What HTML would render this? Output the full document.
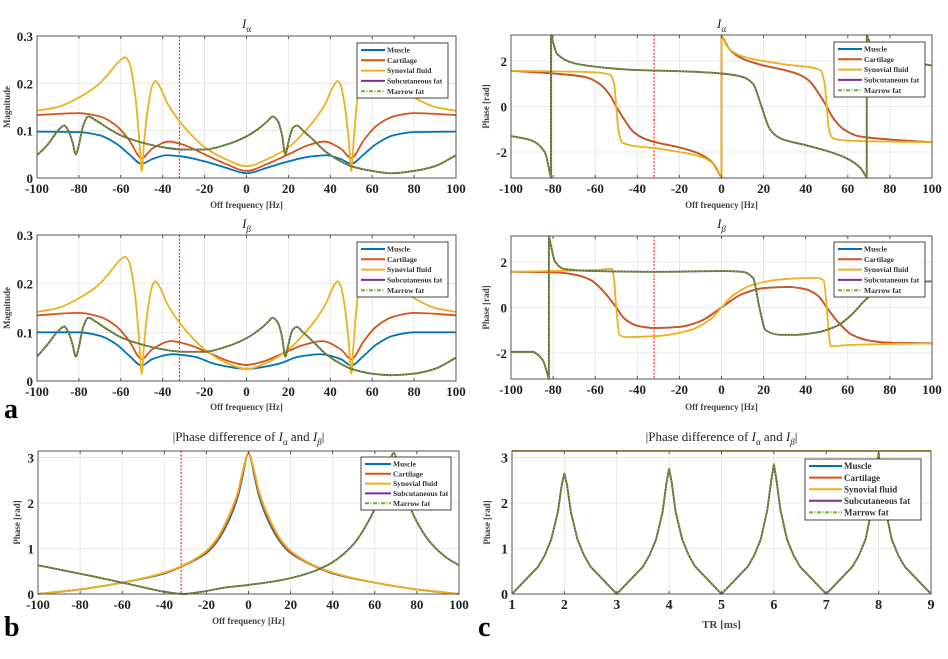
<!DOCTYPE html>
<html><head><meta charset="utf-8">
<style>
html,body{margin:0;padding:0;background:#fff;}
svg{display:block;font-family:"Liberation Serif",serif;}
</style></head>
<body>
<svg id="fig" width="948" height="659" viewBox="0 0 948 659" xmlns="http://www.w3.org/2000/svg"></svg>
<script>
// ---------- DATA ----------
const magA_muscle_f = [-100,-80,-70,-62,-56,-50,-45,-38,-30,-20,-10,0,10,20,30,38,45,50,56,62,70,80,100];
const magA_muscle_v = [0.098,0.097,0.09,0.072,0.05,0.03,0.04,0.048,0.045,0.035,0.022,0.01,0.022,0.035,0.045,0.048,0.04,0.03,0.05,0.072,0.09,0.097,0.098];
const magA_cart_f = [-100,-80,-70,-62,-56,-50,-45,-37,-30,-20,-10,0,10,20,30,37,45,50,56,62,70,80,100];
const magA_cart_v = [0.133,0.137,0.13,0.11,0.08,0.042,0.062,0.077,0.07,0.05,0.03,0.015,0.03,0.05,0.07,0.077,0.062,0.042,0.08,0.11,0.13,0.137,0.133];
const magA_syn_f = [-100,-90,-80,-70,-64,-60,-58,-56,-53,-51,-50,-49,-47,-45,-43.5,-41,-38,-32,-25,-20,-10,0,10,20,25,32,38,41,43.5,45,47,49,50,51,53,56,58,60,64,70,80,90,100];
const magA_syn_v = [0.142,0.15,0.17,0.2,0.23,0.25,0.255,0.245,0.17,0.07,0.015,0.07,0.15,0.195,0.205,0.19,0.16,0.12,0.085,0.065,0.04,0.025,0.04,0.065,0.085,0.12,0.16,0.19,0.205,0.195,0.15,0.07,0.015,0.07,0.17,0.245,0.255,0.25,0.23,0.2,0.17,0.15,0.142];
const magA_fat_f = [-100,-95,-90,-87,-85,-83,-81.5,-80,-78,-75.5,-72,-66,-60,-50,-40,-30,-20,-10,0,6,10,12.5,15,17,18.5,20,22,24,27,32,38,45,50,60,69,80,90,100];
const magA_fat_v = [0.048,0.07,0.1,0.111,0.1,0.075,0.05,0.07,0.11,0.13,0.122,0.105,0.09,0.075,0.065,0.06,0.06,0.07,0.088,0.105,0.12,0.13,0.12,0.09,0.05,0.075,0.105,0.111,0.1,0.08,0.055,0.035,0.025,0.015,0.01,0.015,0.025,0.048];
const magB_muscle_f = [-100,-80,-70,-62,-56,-50,-45,-35,-25,-15,0,15,25,35,45,50,56,62,70,80,100];
const magB_muscle_v = [0.1,0.1,0.093,0.075,0.052,0.032,0.045,0.055,0.05,0.035,0.025,0.035,0.05,0.055,0.045,0.032,0.052,0.075,0.093,0.1,0.1];
const magB_cart_f = [-100,-80,-70,-62,-56,-50,-45,-36,-28,-18,-8,0,8,18,28,36,45,50,56,62,70,80,100];
const magB_cart_v = [0.135,0.14,0.132,0.112,0.082,0.045,0.065,0.082,0.075,0.058,0.04,0.033,0.04,0.058,0.075,0.082,0.065,0.045,0.082,0.112,0.132,0.14,0.135];
const magB_syn_f = magA_syn_f;
const magB_syn_v = [0.142,0.15,0.17,0.2,0.23,0.25,0.255,0.245,0.17,0.07,0.015,0.07,0.15,0.195,0.205,0.19,0.16,0.12,0.085,0.065,0.038,0.025,0.038,0.065,0.085,0.12,0.16,0.19,0.205,0.195,0.15,0.07,0.015,0.07,0.17,0.245,0.255,0.25,0.23,0.2,0.17,0.15,0.142];
const magB_fat_f = magA_fat_f;
const magB_fat_v = [0.05,0.075,0.102,0.112,0.1,0.075,0.05,0.07,0.11,0.13,0.122,0.105,0.09,0.075,0.065,0.06,0.06,0.07,0.088,0.105,0.12,0.13,0.12,0.09,0.05,0.075,0.105,0.111,0.1,0.08,0.055,0.035,0.025,0.015,0.012,0.015,0.025,0.048];
const phA_muscle_f = [-100,-80,-65,-58,-53,-50,-46,-42,-37,-30,-20,-10,-4,0,0,4,10,20,30,37,42,46,50,53,58,65,80,100];
const phA_muscle_v = [1.57,1.45,1.3,1.0,0.5,0,-0.6,-1.1,-1.4,-1.6,-1.8,-2.1,-2.5,-3.14,3.14,2.5,2.1,1.8,1.6,1.4,1.1,0.6,0,-0.5,-1.0,-1.3,-1.45,-1.57];
const phA_syn_f = [-100,-60,-53,-51,-50,-49,-47,-30,-20,-10,-3,0,0,3,10,20,30,47,49,50,51,53,60,100];
const phA_syn_v = [1.57,1.5,1.4,1.0,0,-1.0,-1.6,-1.85,-2.0,-2.2,-2.6,-3.14,3.14,2.6,2.2,2.0,1.85,1.6,1.0,0,-1.0,-1.4,-1.5,-1.57];
const phA_fat_f = [-100,-90,-84,-81,-81,-78,-70,-55,-40,-20,0,10,15,19,23,28,40,50,60,66,69,69,72,80,100];
const phA_fat_v = [-1.3,-1.5,-2.0,-3.14,3.14,2.3,1.9,1.7,1.6,1.55,1.45,1.3,1.0,0,-1.0,-1.4,-1.7,-1.95,-2.3,-2.7,-3.14,3.14,2.5,2.1,1.8];
const phB_muscle_f = [-100,-80,-70,-62,-55,-50,-46,-40,-32,-20,-10,0,10,20,32,40,46,50,55,62,70,80,100];
const phB_muscle_v = [1.57,1.55,1.45,1.2,0.6,0,-0.5,-0.8,-0.9,-0.85,-0.6,0,0.6,0.85,0.9,0.8,0.5,0,-0.6,-1.2,-1.45,-1.55,-1.57];
const phB_syn_f = [-100,-60,-52,-51,-50,-48.5,-45,-30,-15,-5,0,5,15,30,45,48.5,50,51,52,60,100];
const phB_syn_v = [1.57,1.65,1.7,1.2,0,-1.2,-1.3,-1.25,-1.0,-0.5,0,0.5,1.0,1.25,1.3,1.2,0,-1.2,-1.7,-1.65,-1.57];
const phB_fat_f = [-100,-90,-85,-82,-82,-79,-75,-60,-30,0,10,15,18,21,28,35,45,55,62,68,75,85,100];
const phB_fat_v = [-1.95,-1.95,-2.3,-3.14,3.14,2.0,1.7,1.6,1.57,1.6,1.57,1.3,0,-1.0,-1.2,-1.2,-1.1,-0.8,-0.3,0.3,0.8,1.1,1.15];
const pdB_water_f = [-100,-80,-60,-40,-32,-20,-15,-10,-5,-3,0,3,5,10,15,20,32,40,60,80,100];
const pdB_muscle_v = [0,0.1,0.25,0.45,0.6,0.9,1.15,1.55,2.15,2.55,3.1,2.55,2.15,1.55,1.15,0.9,0.6,0.45,0.25,0.1,0];
const pdB_cart_v = [0,0.1,0.25,0.46,0.6,0.92,1.18,1.6,2.2,2.6,3.1,2.6,2.2,1.6,1.18,0.92,0.6,0.46,0.25,0.1,0];
const pdB_syn_v = [0,0.1,0.25,0.47,0.61,0.95,1.22,1.65,2.25,2.65,3.1,2.65,2.25,1.65,1.22,0.95,0.61,0.47,0.25,0.1,0];
const pdB_fat_f = [-100,-75,-55,-40,-31,-22,-10,0,15,28,40,50,57,63,66,69,72,76,81,87,94,100];
const pdB_fat_v = [0.63,0.4,0.2,0.05,0,0.05,0.15,0.2,0.3,0.45,0.7,1.1,1.6,2.2,2.7,3.1,2.6,2.0,1.5,1.1,0.8,0.63];
const pdC_water_t = [1,9];
const pdC_water_v = [3.14,3.14];
const pdC_fat_t = [1,1.25,1.5,1.625,1.75,1.875,1.95,2,2.05,2.125,2.25,2.375,2.5,2.75,3,3.25,3.5,3.625,3.75,3.875,3.95,4,4.05,4.125,4.25,4.375,4.5,4.75,5,5.25,5.5,5.625,5.75,5.875,5.95,6,6.05,6.125,6.25,6.375,6.5,6.75,7,7.25,7.5,7.625,7.75,7.875,7.95,8,8.05,8.125,8.25,8.375,8.5,8.75,9];
const pdC_fat_v = [0,0.3,0.6,0.85,1.2,1.8,2.4,2.65,2.4,1.8,1.2,0.85,0.6,0.3,0,0.3,0.6,0.85,1.2,1.8,2.45,2.75,2.45,1.8,1.2,0.85,0.6,0.3,0,0.3,0.6,0.85,1.2,1.85,2.5,2.85,2.5,1.85,1.2,0.85,0.6,0.3,0,0.3,0.6,0.85,1.2,1.9,2.6,3.1,2.6,1.9,1.2,0.85,0.6,0.3,0];
const freqTicks = [-100,-80,-60,-40,-20,0,20,40,60,80,100];
const magTicks = [0,0.1,0.2,0.3];
const phaseTicks = [-2,0,2];
const pdTicks = [0,1,2,3];
const trTicks = [1,2,3,4,5,6,7,8,9];
const markerFreq = -32;
const legendNames = ["Muscle","Cartilage","Synovial fluid","Subcutaneous fat","Marrow fat"];

// ---------- DRAWING ----------
const NS = "http://www.w3.org/2000/svg";
const svg = document.getElementById('fig');
const C = {mus:"#0072BD",car:"#D95319",syn:"#EDB120",sub:"#7E2F8E",fat:"#77AC30"};
function mk(tag, attrs, parent){const e=document.createElementNS(NS,tag);for(const k in attrs)e.setAttribute(k,attrs[k]);(parent||svg).appendChild(e);return e;}
function txt(s,x,y,size,anchor,parent,extra){const t=mk('text',Object.assign({x:x,y:y,'font-size':size,'text-anchor':anchor||'middle',fill:'#222'},extra||{}),parent);t.textContent=s;return t;}

function smoothPath(P,linear){
  if(linear) return P.map((p,i)=>(i?'L':'M')+p[0].toFixed(2)+','+p[1].toFixed(2)).join('');
  let d='';
  let runs=[],cur=[P[0]];
  for(let i=1;i<P.length;i++){
    if(Math.abs(P[i][0]-P[i-1][0])<1e-6){runs.push(cur);cur=[P[i]];}
    else cur.push(P[i]);
  }
  runs.push(cur);
  runs.forEach((r,ri)=>{
    d+=(ri?'L':'M')+r[0][0].toFixed(2)+','+r[0][1].toFixed(2);
    const n=r.length; if(n<2)return;
    const dx=[],m=[],t=new Array(n);
    for(let i=0;i<n-1;i++){dx[i]=r[i+1][0]-r[i][0];m[i]=(r[i+1][1]-r[i][1])/dx[i];}
    t[0]=m[0];t[n-1]=m[n-2];
    for(let i=1;i<n-1;i++){t[i]=(m[i-1]*m[i]<=0)?0:(3*(dx[i-1]+dx[i]))/((2*dx[i]+dx[i-1])/m[i-1]+(dx[i]+2*dx[i-1])/m[i]);}
    for(let i=0;i<n-1;i++){
      const h=dx[i]/3;
      d+='C'+(r[i][0]+h).toFixed(2)+','+(r[i][1]+t[i]*h).toFixed(2)+' '+(r[i+1][0]-h).toFixed(2)+','+(r[i+1][1]-t[i+1]*h).toFixed(2)+' '+r[i+1][0].toFixed(2)+','+r[i+1][1].toFixed(2);
    }
  });
  return d;
}

function panel(name,p){
  const g=mk('g',{});
  
  
  const sx=v=>p.x0+(v-p.xmin)/(p.xmax-p.xmin)*(p.x1-p.x0);
  const sy=v=>p.y1-(v-p.ymin)/(p.ymax-p.ymin)*(p.y1-p.y0);
  const grid=mk('g',{},g);
  
  
  p.xticks.forEach(t=>{mk('line',{x1:sx(t),x2:sx(t),y1:p.y0,y2:p.y1,stroke:'#e3e3e3','stroke-width':0.8},grid);});
  p.yticks.forEach(t=>{mk('line',{x1:p.x0,x2:p.x1,y1:sy(t),y2:sy(t),stroke:'#e3e3e3','stroke-width':0.8},grid);});
  const clipId='clip'+name;
  const cp=mk('clipPath',{id:clipId},g);mk('rect',{x:p.x0,y:p.y0-1,width:p.x1-p.x0,height:p.y1-p.y0+2},cp);
  const plot=mk('g',{'clip-path':'url(#'+clipId+')'},g);
  
  
  if(p.marker!==undefined){const m=mk('line',{x1:sx(p.marker),x2:sx(p.marker),y1:p.y0,y2:p.y1,stroke:'#ff3030','stroke-width':1.2,'stroke-dasharray':'2,1.5'},plot);
    }
  p.series.forEach(s=>{
    const P=s.f.map((f,i)=>[sx(f),sy(s.v[i])]);
    const path=mk('path',{d:smoothPath(P,p.linear),fill:'none',stroke:s.c,'stroke-width':s.w||1.8,'stroke-linejoin':'round','stroke-dasharray':s.dash||'none'},plot);
    
    
  });
  mk('rect',{x:p.x0,y:p.y0,width:p.x1-p.x0,height:p.y1-p.y0,fill:'none',stroke:'#555','stroke-width':1},g);
  p.xticks.forEach(t=>{mk('line',{x1:sx(t),x2:sx(t),y1:p.y1,y2:p.y1-3,stroke:'#555'},g);mk('line',{x1:sx(t),x2:sx(t),y1:p.y0,y2:p.y0+3,stroke:'#555'},g);
    const l=txt(String(t),sx(t),p.y1+15,p.tfs||13,'middle',g,{'font-weight':'bold'});});
  p.yticks.forEach(t=>{
    const l=txt(String(t),p.x0-4,sy(t)+5,p.tfs||13,'end',g,{'font-weight':'bold'});});
  const xl=txt(p.xtitle,(p.x0+p.x1)/2,p.xty,p.xfs||9,'middle',g,{'font-weight':'bold',fill:'#444'});
  
  const yl=txt(p.ytitle,0,0,9,'middle',g,{'font-weight':'bold',fill:'#444',transform:'translate('+p.ytx+','+((p.y0+p.y1)/2)+') rotate(-90)'});
  
  const tt=mk('text',{x:(p.x0+p.x1)/2,y:p.ty,'font-size':13,'text-anchor':'middle',fill:'#222'},g);
  
  tt.innerHTML=p.title;
  const L=p.leg, lg=mk('g',{},g);
  
  mk('rect',{x:L.x,y:L.y,width:L.w,height:L.h,fill:'#fff',stroke:'#444','stroke-width':1},lg);
  const cols=[C.mus,C.car,C.syn,C.sub,C.fat];
  legendNames.forEach((n,i)=>{
    const yy=L.y+L.pad+i*L.dy;
    const e=mk('g',{},lg);
    
    mk('line',{x1:L.x+4,x2:L.x+4+L.lw,y1:yy,y2:yy,stroke:cols[i],'stroke-width':2,'stroke-dasharray':i==4?'4,1.5,1,1.5':'none'},e);
    txt(n,L.x+6+L.lw,yy+L.fs*0.35,L.fs,'start',e,{'font-weight':'bold',fill:'#333'});
  });
}
function fiveSeries(mus,car,syn,fat){
  return [
    {n:'muscle-line',f:mus[0],v:mus[1],c:C.mus},
    {n:'cartilage-line',f:car[0],v:car[1],c:C.car},
    {n:'synovial-fluid-line',f:syn[0],v:syn[1],c:C.syn},
    {n:'subcutaneous-fat-line',f:fat[0],v:fat[1],c:'#5d5a45',w:1.9},
    {n:'marrow-fat-line',f:fat[0],v:fat[1],c:C.fat,w:1.2,dash:'2,1.2'}
  ];
}
const legS=(x,y)=>({x:x,y:y,w:91,h:55,pad:7,dy:10.3,lw:24,fs:7.5});
const IA='<tspan font-style="italic">I</tspan><tspan font-size="9" dy="4">α</tspan>';
const IB='<tspan font-style="italic">I</tspan><tspan font-size="9" dy="4" font-style="italic">β</tspan>';
panel('panel-a-alpha-magnitude',{x0:37,x1:456,y0:36,y1:178,xmin:-100,xmax:100,ymin:0,ymax:0.3,xticks:freqTicks,yticks:magTicks,marker:markerFreq,
  xtitle:'Off frequency [Hz]',xty:208,ytitle:'Magnitude',ytx:10,ty:28,title:IA,leg:legS(357,43),
  series:fiveSeries([magA_muscle_f,magA_muscle_v],[magA_cart_f,magA_cart_v],[magA_syn_f,magA_syn_v],[magA_fat_f,magA_fat_v])});
panel('panel-a-alpha-phase',{x0:511,x1:932,y0:35,y1:178,xmin:-100,xmax:100,ymin:-Math.PI,ymax:Math.PI,xticks:freqTicks,yticks:phaseTicks,marker:markerFreq,
  xtitle:'Off frequency [Hz]',xty:208,ytitle:'Phase [rad]',ytx:489,ty:28,title:IA,leg:legS(834,42),
  series:fiveSeries([phA_muscle_f,phA_muscle_v],[phA_muscle_f,phA_muscle_v],[phA_syn_f,phA_syn_v],[phA_fat_f,phA_fat_v])});
panel('panel-a-beta-magnitude',{x0:37,x1:456,y0:235,y1:381,xmin:-100,xmax:100,ymin:0,ymax:0.3,xticks:freqTicks,yticks:magTicks,marker:markerFreq,
  xtitle:'Off frequency [Hz]',xty:410,ytitle:'Magnitude',ytx:10,ty:228,title:IB,leg:legS(357,242),
  series:fiveSeries([magB_muscle_f,magB_muscle_v],[magB_cart_f,magB_cart_v],[magB_syn_f,magB_syn_v],[magB_fat_f,magB_fat_v])});
panel('panel-a-beta-phase',{x0:511,x1:932,y0:236,y1:379,xmin:-100,xmax:100,ymin:-Math.PI,ymax:Math.PI,xticks:freqTicks,yticks:phaseTicks,marker:markerFreq,
  xtitle:'Off frequency [Hz]',xty:410,ytitle:'Phase [rad]',ytx:489,ty:228,title:IB,leg:legS(834,242),
  series:fiveSeries([phB_muscle_f,phB_muscle_v],[phB_muscle_f,phB_muscle_v],[phB_syn_f,phB_syn_v],[phB_fat_f,phB_fat_v])});
const PDT='|Phase difference of '+'<tspan font-style="italic">I</tspan><tspan font-size="9" dy="4">α</tspan><tspan dy="-4"> and </tspan><tspan font-style="italic">I</tspan><tspan font-size="9" dy="4" font-style="italic">β</tspan><tspan dy="-4">|</tspan>';
panel('panel-b-phase-difference',{x0:38,x1:459,y0:451,y1:594,xmin:-100,xmax:100,ymin:0,ymax:Math.PI,xticks:freqTicks,yticks:pdTicks,marker:markerFreq,
  xtitle:'Off frequency [Hz]',xty:624,ytitle:'Phase [rad]',ytx:20,ty:441,title:PDT,leg:{x:361,y:457,w:90,h:53,pad:7,dy:9.8,lw:26,fs:7.5},
  series:fiveSeries([pdB_water_f,pdB_muscle_v],[pdB_water_f,pdB_cart_v],[pdB_water_f,pdB_syn_v],[pdB_fat_f,pdB_fat_v])});
panel('panel-c-phase-difference-tr',{x0:512,x1:931,y0:451,y1:594,xmin:1,xmax:9,ymin:0,ymax:Math.PI,xticks:trTicks,yticks:pdTicks,tfs:14,linear:true,
  xtitle:'TR [ms]',xty:628,xfs:11,ytitle:'Phase [rad]',ytx:490,ty:441,title:PDT,leg:{x:805,y:459,w:116,h:61,pad:7,dy:11.6,lw:33,fs:9},
  series:fiveSeries([pdC_water_t,pdC_water_v],[pdC_water_t,pdC_water_v],[pdC_water_t,pdC_water_v],[pdC_fat_t,pdC_fat_v])});
[['a',4,418],['b',4,636],['c',478,636]].forEach(a=>{const t=txt(a[0],a[1],a[2],28,'start',svg,{'font-weight':'bold',fill:'#000'});
  });
</script>
</body></html>
